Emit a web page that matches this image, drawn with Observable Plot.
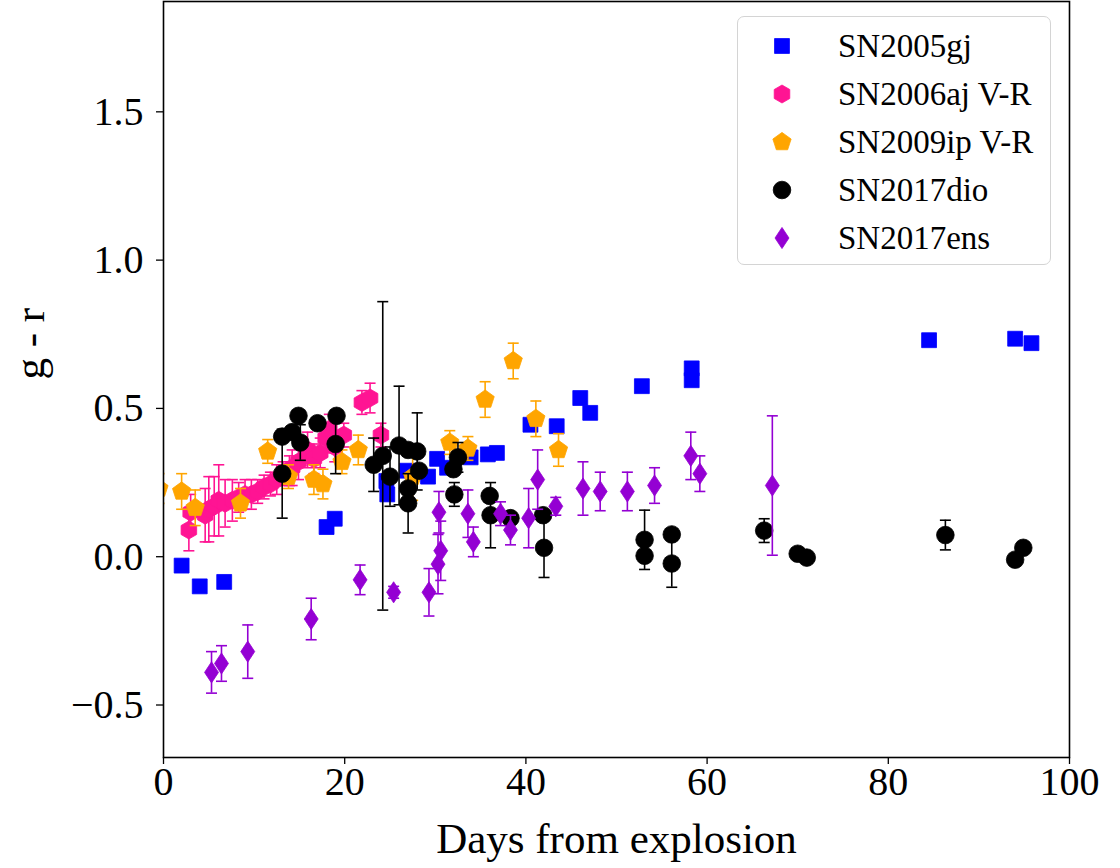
<!DOCTYPE html>
<html><head><meta charset="utf-8">
<script src="https://cdn.jsdelivr.net/npm/d3@7"></script>
<script src="https://cdn.jsdelivr.net/npm/@observablehq/plot@0.6"></script>
<style>
body{margin:0;background:#fff;}
#wrap{position:relative;width:1120px;height:868px;}
#legend{position:absolute;left:737px;top:16px;width:312px;height:247px;border:1.5px solid #d4d4d4;border-radius:7px;background:rgba(255,255,255,0.85);font-family:"Liberation Serif",serif;font-size:33px;color:#000;}
#legend .row{position:absolute;left:0;width:312px;height:48px;}
#legend svg{position:absolute;left:29px;top:9px;}
#legend span{position:absolute;left:100px;top:5px;line-height:38px;white-space:nowrap;}
</style></head>
<body><div id="wrap"></div>
<script>
// ---- data ----
const seriesNames = ["SN2005gj", "SN2006aj V-R", "SN2009ip V-R", "SN2017dio", "SN2017ens"];
const seriesColors = ["#0000ff", "#ff1493", "#ffa500", "#000000", "#9400d3"];

const gjDays = [2.0, 4.0, 6.7, 18.0, 18.9, 24.6, 24.7, 26.9, 29.2, 30.2, 31.3, 33.9, 35.8, 36.8, 40.5, 43.4, 46.0, 47.1, 52.8, 58.3, 58.3, 84.5, 94.0, 95.8];
const gjGR   = [-0.03, -0.10, -0.085, 0.10, 0.128, 0.255, 0.21, 0.29, 0.27, 0.33, 0.30, 0.335, 0.345, 0.35, 0.445, 0.44, 0.535, 0.485, 0.575, 0.635, 0.595, 0.73, 0.735, 0.72];
const gjErr  = [0, 0, 0, 0, 0, 0, 0, 0, 0, 0, 0, 0, 0, 0, 0, 0, 0, 0, 0, 0, 0, 0, 0, 0];

const ajDays = [2.8, 3.0, 4.6, 5.0, 5.6, 6.1, 6.8, 7.6, 8.3, 9.0, 9.7, 10.4, 11.1, 11.8, 12.5, 13.2, 13.9, 14.2, 14.9, 15.9, 16.6, 17.3, 17.9, 18.3, 18.9, 19.9, 21.9, 22.8, 24.0];
const ajVR   = [0.09, 0.15, 0.14, 0.16, 0.17, 0.19, 0.18, 0.19, 0.20, 0.21, 0.21, 0.22, 0.235, 0.245, 0.26, 0.28, 0.29, 0.30, 0.32, 0.36, 0.33, 0.35, 0.40, 0.43, 0.37, 0.41, 0.52, 0.535, 0.41];
const ajErr  = [0.07, 0.06, 0.09, 0.11, 0.10, 0.12, 0.08, 0.07, 0.05, 0.05, 0.05, 0.04, 0.04, 0.04, 0.05, 0.04, 0.05, 0.06, 0.06, 0.06, 0.05, 0.05, 0.05, 0.05, 0.05, 0.04, 0.04, 0.05, 0.04];

const ipDays = [-0.5, 2.0, 3.5, 8.5, 11.5, 13.8, 16.6, 17.6, 19.7, 21.5, 27.5, 31.6, 33.6, 35.5, 38.6, 41.1, 43.6];
const ipVR   = [0.23, 0.22, 0.165, 0.18, 0.355, 0.27, 0.26, 0.245, 0.32, 0.36, 0.27, 0.385, 0.365, 0.53, 0.66, 0.465, 0.36];
const ipErr  = [0.05, 0.06, 0.06, 0.05, 0.04, 0.04, 0.05, 0.05, 0.04, 0.05, 0.08, 0.04, 0.04, 0.06, 0.06, 0.06, 0.055];

const dioDays = [13.1, 13.1, 14.2, 14.9, 15.1, 17.0, 19.1, 19.0, 23.2, 24.2, 25.0, 26.0, 27.0, 28.0, 28.2, 27.0, 27.0, 32.0, 32.5, 32.1, 36.0, 36.1, 38.3, 41.9, 42.0, 53.1, 53.1, 56.1, 56.1, 66.3, 70.0, 71.0, 86.3, 94.0, 94.9];
const dioGR   = [0.28, 0.405, 0.42, 0.475, 0.385, 0.45, 0.475, 0.38, 0.31, 0.34, 0.27, 0.375, 0.36, 0.355, 0.29, 0.23, 0.18, 0.295, 0.335, 0.21, 0.205, 0.14, 0.13, 0.14, 0.03, 0.057, 0.003, 0.075, -0.023, 0.088, 0.01, -0.003, 0.073, -0.01, 0.03];
const dioErr  = [0.15, 0, 0, 0, 0.06, 0.02, 0, 0.10, 0.09, 0.52, 0.10, 0.20, 0, 0.13, 0, 0, 0.10, 0, 0.05, 0.04, 0, 0.11, 0.01, 0, 0.10, 0.10, 0.02, 0, 0.08, 0.04, 0, 0, 0.05, 0, 0];

const ensDays = [5.3, 6.4, 9.3, 16.3, 21.7, 25.4, 29.3, 30.3, 30.6, 30.4, 33.6, 34.2, 37.2, 38.3, 40.3, 41.3, 43.3, 46.3, 48.2, 51.2, 54.2, 58.2, 59.2, 67.2];
const ensGR   = [-0.39, -0.36, -0.32, -0.21, -0.078, -0.12, -0.12, -0.025, 0.02, 0.15, 0.145, 0.05, 0.145, 0.09, 0.13, 0.26, 0.17, 0.23, 0.22, 0.22, 0.24, 0.34, 0.28, 0.24];
const ensErr  = [0.07, 0.06, 0.09, 0.07, 0.05, 0.02, 0.08, 0.10, 0.10, 0.07, 0.08, 0.05, 0.04, 0.05, 0.10, 0.10, 0.03, 0.09, 0.065, 0.065, 0.06, 0.08, 0.06, 0.235];

const xTicks = [0, 20, 40, 60, 80, 100];
const yTicks = [-0.5, 0.0, 0.5, 1.0, 1.5];
const xLabel = "Days from explosion";
const yLabel = "g - r";

// ---- symbols ----
function polygon(n) {
  return {draw(ctx, size) {
    const R = Math.sqrt(size / Math.PI);
    for (let i = 0; i < n; i++) {
      const a = 2 * Math.PI / n * i - Math.PI / 2;
      const x = R * Math.cos(a), y = R * Math.sin(a);
      i ? ctx.lineTo(x, y) : ctx.moveTo(x, y);
    }
    ctx.closePath();
  }};
}
const thinDiamond = {draw(ctx, size) {
  const h = Math.sqrt(size / Math.PI) * 1.6, w = h * 0.66;
  ctx.moveTo(0, -h); ctx.lineTo(w, 0); ctx.lineTo(0, h); ctx.lineTo(-w, 0); ctx.closePath();
}};
const capSymbol = {draw(ctx, size) { const w = Math.sqrt(size / Math.PI); ctx.moveTo(-w, 0); ctx.lineTo(w, 0); }};
const seriesSymbols = [d3.symbolSquare, polygon(6), polygon(5), d3.symbolCircle, thinDiamond];
const seriesR = [8.4, 9, 9.6, 8.8, 6.6];

const raw = [[gjDays, gjGR, gjErr], [ajDays, ajVR, ajErr], [ipDays, ipVR, ipErr], [dioDays, dioGR, dioErr], [ensDays, ensGR, ensErr]];
const series = raw.map(([d, v, e], k) => d.map((day, i) => ({day, v: v[i], e: e[i], s: k})));

const marks = [];
series.forEach((rows, k) => {
  const col = seriesColors[k];
  const withErr = rows.filter(r => r.e > 0);
  marks.push(
    Plot.ruleX(withErr, {x: "day", y1: r => r.v - r.e, y2: r => r.v + r.e, stroke: col, strokeWidth: 1.6, clip: true}),
    Plot.dot(withErr, {x: "day", y: r => r.v + r.e, symbol: capSymbol, r: 5.5, stroke: col, fill: "none", strokeWidth: 1.6, clip: true}),
    Plot.dot(withErr, {x: "day", y: r => r.v - r.e, symbol: capSymbol, r: 5.5, stroke: col, fill: "none", strokeWidth: 1.6, clip: true}),
    Plot.dot(rows, {x: "day", y: "v", symbol: seriesSymbols[k], r: seriesR[k], fill: col, stroke: col, strokeWidth: 0.8, clip: true})
  );
});

const chart = Plot.plot({
  width: 1120, height: 868,
  marginLeft: 163, marginRight: 51, marginTop: 1, marginBottom: 111,
  x: {domain: [0, 100]},
  y: {domain: [-0.677, 1.872]},
  style: {fontFamily: "'Liberation Serif', serif", fontSize: "40px", color: "#000", background: "#fff"},
  marks: [
    ...marks,
    Plot.frame({stroke: "#000", strokeWidth: 1.6}),
    Plot.axisX({ticks: xTicks, tickSize: 7, tickPadding: 2, label: null, tickFormat: d3.format("d"), strokeWidth: 1.3}),
    Plot.axisY({ticks: yTicks, tickSize: 7, tickPadding: 13, label: null, tickFormat: d3.format(".1f"), strokeWidth: 1.3}),
    Plot.text([xLabel], {text: d => d, frameAnchor: "bottom", dy: 82, lineAnchor: "middle", fontSize: 43}),
    Plot.text([yLabel], {text: d => d, frameAnchor: "left", dx: -133, rotate: -90, lineAnchor: "middle", fontSize: 43})
  ]
});

const wrap = document.getElementById("wrap");
wrap.appendChild(chart);

// ---- legend ----
const legend = document.createElement("div");
legend.id = "legend";
seriesNames.forEach((name, k) => {
  const row = document.createElement("div");
  row.className = "row";
  row.style.top = (5 + 48 * k) + "px";
  const svg = d3.create("svg").attr("width", 30).attr("height", 30);
  const r = seriesR[k];
  svg.append("path")
    .attr("transform", "translate(15,15)")
    .attr("d", d3.symbol(seriesSymbols[k], r * r * Math.PI)())
    .attr("fill", seriesColors[k]).attr("stroke", seriesColors[k]).attr("stroke-width", 0.8);
  row.appendChild(svg.node());
  const span = document.createElement("span");
  span.textContent = name;
  row.appendChild(span);
  legend.appendChild(row);
});
wrap.appendChild(legend);
</script>
</body></html>
